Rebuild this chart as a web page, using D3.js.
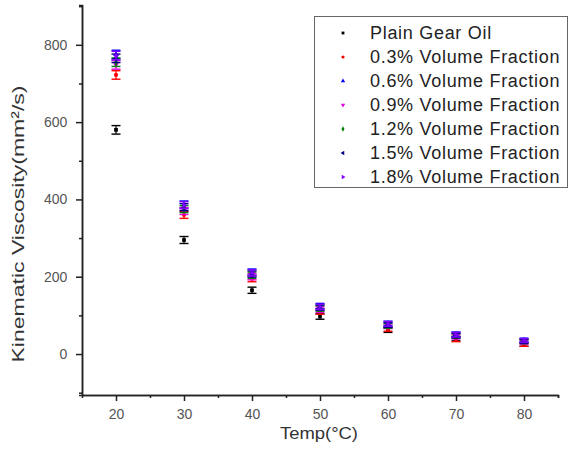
<!DOCTYPE html>
<html><head><meta charset="utf-8">
<script src="https://cdn.jsdelivr.net/npm/d3@7"></script>
<style>body{margin:0;background:#fff}svg{display:block}</style>
</head><body>
<svg id="chart" width="572" height="455"></svg>
<script>
const temps = [20, 30, 40, 50, 60, 70, 80];
const seriesNames = ["Plain Gear Oil","0.3% Volume Fraction","0.6% Volume Fraction","0.9% Volume Fraction","1.2% Volume Fraction","1.5% Volume Fraction","1.8% Volume Fraction"];
const plain   = [580, 295, 165, 97, 62, 40, 25];
const vf03    = [722, 360, 195, 110, 65, 38, 25];
const vf06    = [775, 387, 212, 124, 79, 51, 36];
const vf09    = [748, 370, 200, 115, 72, 45, 30];
const vf12    = [755, 375, 204, 118, 73, 47, 32];
const vf15    = [765, 380, 207, 120, 75, 48, 33];
const vf18    = [772, 385, 210, 122, 78, 50, 35];
const errors  = [11, 9, 8, 7, 6, 6, 5];
const colors  = ["#000000","#ff0000","#0000ff","#e000e0","#008000","#000080","#8000ff"];
const xTicks  = [20, 30, 40, 50, 60, 70, 80];
const yTicks  = [0, 200, 400, 600, 800];

const allSeries = [plain, vf03, vf06, vf09, vf12, vf15, vf18];
const symbols = [d3.symbolSquare, d3.symbolCircle, d3.symbolTriangle, d3.symbolTriangle, d3.symbolDiamond, d3.symbolTriangle, d3.symbolTriangle];
const rotations = [0, 0, 0, 180, 0, -90, 90];

const svg = d3.select("#chart");
const x = d3.scaleLinear().domain([15, 85]).range([82, 558]);
const y = d3.scaleLinear().domain([-106, 903]).range([395, 5]);

const axisColor = "#222";
const labelColor = "#555";

// X axis
const gx = svg.append("g").attr("transform", "translate(0,395)");
gx.call(d3.axisBottom(x).tickValues(xTicks).tickSize(6).tickSizeOuter(0).tickFormat(d3.format("d")));
gx.append("g").call(d3.axisBottom(x).tickValues([25,35,45,55,65,75,85]).tickSize(3).tickFormat(""));
gx.selectAll("path.domain").attr("stroke", axisColor).attr("stroke-width", 1.5);
gx.selectAll("line").attr("stroke", axisColor).attr("stroke-width", 1.5);
gx.selectAll("text").attr("fill", labelColor).attr("font-family", "Liberation Sans, Arial, sans-serif").attr("font-size", 14).attr("dy", "1.1em");

// Y axis
const gy = svg.append("g").attr("transform", "translate(82,0)");
gy.call(d3.axisLeft(y).tickValues(yTicks).tickSize(6).tickSizeOuter(0).tickFormat(d3.format("d")));
gy.append("g").call(d3.axisLeft(y).tickValues([-100,100,300,500,700,900]).tickSize(3).tickFormat(""));
gy.selectAll("path.domain").attr("stroke", axisColor).attr("stroke-width", 1.5);
gy.selectAll("line").attr("stroke", axisColor).attr("stroke-width", 1.5);
gy.selectAll("text").attr("fill", labelColor).attr("font-family", "Liberation Sans, Arial, sans-serif").attr("font-size", 14).attr("dx", "-0.4em");

// Axis titles
svg.append("text").attr("x", 319).attr("y", 439).attr("text-anchor", "middle")
  .attr("font-family", "Liberation Sans, Arial, sans-serif").attr("font-size", 17).attr("fill", "#333")
  .attr("textLength", 78).attr("lengthAdjust", "spacingAndGlyphs").text("Temp(°C)");
svg.append("text").attr("transform", "translate(24,224) rotate(-90)").attr("text-anchor", "middle")
  .attr("font-family", "Liberation Sans, Arial, sans-serif").attr("font-size", 17).attr("fill", "#333")
  .attr("textLength", 277).attr("lengthAdjust", "spacingAndGlyphs").text("Kinematic Viscosity(mm²/s)");

// Data
const plot = svg.append("g");
allSeries.forEach((vals, si) => {
  const g = plot.append("g");
  vals.forEach((v, i) => {
    const cx = x(temps[i]);
    const e = errors[i];
    const y1 = y(v + e), y2 = y(v - e);
    g.append("line").attr("x1", cx).attr("x2", cx).attr("y1", y1).attr("y2", y2).attr("stroke", colors[si]).attr("stroke-width", 1.2);
    [y1, y2].forEach(yy => g.append("line").attr("x1", cx - 4.5).attr("x2", cx + 4.5).attr("y1", yy).attr("y2", yy).attr("stroke", colors[si]).attr("stroke-width", 1.4));
    g.append("path").attr("d", d3.symbol().type(symbols[si]).size(14)())
      .attr("transform", `translate(${cx},${y(v)}) rotate(${rotations[si]})`).attr("fill", colors[si]);
  });
});

// Legend
const lg = svg.append("g");
lg.append("rect").attr("x", 314.5).attr("y", 16.5).attr("width", 253).attr("height", 171)
  .attr("fill", "#fff").attr("stroke", "#666").attr("stroke-width", 1);
seriesNames.forEach((name, i) => {
  const yy = 33 + i * 24;
  lg.append("path").attr("d", d3.symbol().type(symbols[i]).size(8)())
    .attr("transform", `translate(343,${yy}) rotate(${rotations[i]})`).attr("fill", colors[i]);
  lg.append("text").attr("x", 370).attr("y", yy).attr("dy", "0.36em")
    .attr("font-family", "Liberation Sans, Arial, sans-serif").attr("font-size", 18).attr("letter-spacing", 0.7).attr("fill", "#222")
    .text(name);
});
</script>
</body></html>
